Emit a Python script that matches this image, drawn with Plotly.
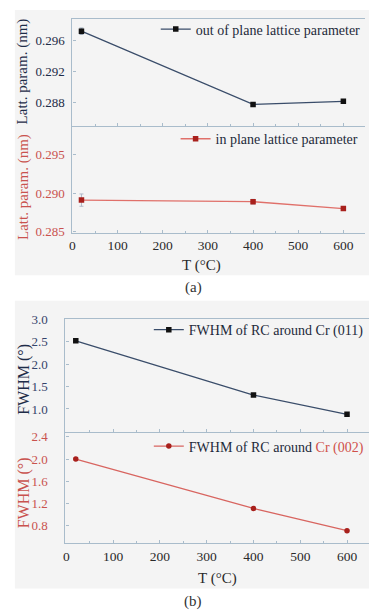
import plotly.graph_objects as go

# ---------------- data ----------------
T = [20, 400, 600]
out_of_plane = [0.2972, 0.2878, 0.2882]
out_of_plane_err = [0.0004, 0.0001, 0.0001]
in_plane = [0.2891, 0.2889, 0.2880]
in_plane_err = [0.0008, 0.0003, 0.0002]
fwhm_011 = [2.52, 1.31, 0.88]
fwhm_002 = [2.00, 1.11, 0.71]
ref_out = [0.288]
ref_in = [0.2882]

ticks_a_top = [0.288, 0.292, 0.296]
ticks_a_bot = [0.285, 0.290, 0.295]
ticks_b_top = [1.0, 1.5, 2.0, 2.5, 3.0]
ticks_b_bot = [0.8, 1.2, 1.6, 2.0, 2.4]
ticks_x = [0, 100, 200, 300, 400, 500, 600]

W, H = 369, 616
FONT = "Liberation Serif"
NAVY = "#1e2c48"
RED = "#c9524e"
AXC = "#a9bccb"

def px(x):
    return x / W

def py(y):
    return 1 - y / H

fig = go.Figure()

# traces
fig.add_trace(go.Scatter(
    x=T, y=out_of_plane, mode="lines+markers", name="out of plane lattice parameter",
    line=dict(color="#3a4d6a", width=1.3),
    marker=dict(symbol="square", size=5.5, color="#111111"),
    error_y=dict(type="data", array=out_of_plane_err, color="#8898aa", thickness=1, width=2),
    xaxis="x", yaxis="y", legend="legend"))
fig.add_trace(go.Scatter(
    x=T, y=in_plane, mode="lines+markers", name="in plane lattice parameter",
    line=dict(color="#e0706a", width=1.3),
    marker=dict(symbol="square", size=5.5, color="#a8201c"),
    error_y=dict(type="data", array=in_plane_err, color="#b0b8c8", thickness=1, width=2),
    xaxis="x2", yaxis="y2", legend="legend2"))
fig.add_trace(go.Scatter(
    x=T, y=fwhm_011, mode="lines+markers", name="FWHM of RC around Cr (011)",
    line=dict(color="#3a4d6a", width=1.3),
    marker=dict(symbol="square", size=5.5, color="#111111"),
    xaxis="x3", yaxis="y3", legend="legend3"))
fig.add_trace(go.Scatter(
    x=T, y=fwhm_002, mode="lines+markers",
    name="FWHM of RC around <span style='color:#d0504a'>Cr (002)</span>",
    line=dict(color="#d86560", width=1.3),
    marker=dict(symbol="circle", size=5.5, color="#a8201c"),
    xaxis="x4", yaxis="y4", legend="legend4"))

# dotted reference lines
for v in ref_out:
    fig.add_shape(type="line", xref="x domain", yref="y", x0=0, x1=1, y0=v, y1=v,
                  line=dict(color="#8f9fb2", width=1, dash="dot"), layer="below")
for v in ref_in:
    fig.add_shape(type="line", xref="x2 domain", yref="y2", x0=0, x1=1, y0=v, y1=v,
                  line=dict(color="#8f9fb2", width=1, dash="dot"), layer="below")

# background frames for (a) and (b)
fig.add_shape(type="rect", xref="paper", yref="paper", x0=px(12), x1=1, y0=py(274), y1=py(3),
              fillcolor="#f4f4f4", line=dict(width=0), layer="below")
fig.add_shape(type="rect", xref="paper", yref="paper", x0=px(12), x1=1, y0=py(594), y1=py(300),
              fillcolor="#f4f4f4", line=dict(width=0), layer="below")

xa_dom = [px(70), px(365)]
xb_dom = [px(63), 1.0]

def xaxis(dom, anchor, rng, labels, mirror):
    return dict(domain=dom, anchor=anchor, range=rng, tickvals=ticks_x,
                showticklabels=labels, showline=True, linecolor=AXC, linewidth=1.2,
                mirror=mirror, ticks="inside", ticklen=3, tickcolor=AXC,
                showgrid=False, zeroline=False, ticklabeloverflow="allow",
                tickfont=dict(family=FONT, size=13.5, color="#2a2a2a"),
                minor=dict(ticks="inside", ticklen=2, tickcolor=AXC, dtick=50))

def yaxis(dom, anchor, rng, tv, fmt, color, standoff):
    return dict(domain=dom, anchor=anchor, range=rng, tickvals=tv, tickformat=fmt,
                showline=True, linecolor=AXC, linewidth=1.2, ticks="inside", ticklen=3,
                tickcolor=AXC, showgrid=False, zeroline=False,
                ticklabelstandoff=standoff,
                tickfont=dict(family=FONT, size=13, color=color))

fig.update_layout(
    width=W, height=H, margin=dict(l=0, r=0, t=0, b=0),
    font=dict(family=FONT),
    paper_bgcolor="white", plot_bgcolor="#fcfbfa",
    xaxis=xaxis(xa_dom, "y", [0, 648], False, True),
    yaxis=yaxis([py(122), py(12)], "x", [0.28497, 0.2988], ticks_a_top, ".3f", NAVY, 4),
    xaxis2=xaxis(xa_dom, "y2", [0, 648], True, False),
    yaxis2=yaxis([py(231), py(122)], "x2", [0.2848, 0.2987], ticks_a_bot, ".3f", RED, 4),
    xaxis3=xaxis(xb_dom, "y3", [-2, 647], False, True),
    yaxis3=yaxis([py(434), py(319)], "x3", [0.49, 3.0], ticks_b_top, ".1f", "#34436a", 14),
    xaxis4=xaxis(xb_dom, "y4", [-2, 647], True, False),
    yaxis4=yaxis([py(548), py(434)], "x4", [0.48, 2.49], ticks_b_bot, ".1f", RED, 14),
    showlegend=True,
)

def legend(xl, yc):
    return dict(x=px(xl), y=py(yc), xanchor="left", yanchor="middle",
                bgcolor="rgba(0,0,0,0)", borderwidth=0, itemwidth=30,
                font=dict(family=FONT, size=14, color="#1e2a3a"),
                tracegroupgap=0)

fig.update_layout(
    legend=legend(154, 23),
    legend2=legend(174, 135),
    legend3=legend(147, 330),
    legend4=legend(147, 449),
)

# axis titles and captions
anns = [
    dict(text="Latt. param. (nm)", x=px(20), y=py(66), textangle=-90, color=NAVY, size=15),
    dict(text="Latt. param. (nm)", x=px(20), y=py(184), textangle=-90, color=RED, size=15),
    dict(text="FWHM (°)", x=px(21), y=py(380), textangle=-90, color=NAVY, size=16),
    dict(text="FWHM (°)", x=px(21), y=py(496), textangle=-90, color=RED, size=16),
    dict(text="T (°C)", x=px(200), y=py(264), textangle=0, color="#2a2a2a", size=15),
    dict(text="T (°C)", x=px(216), y=py(584), textangle=0, color="#2a2a2a", size=15),
    dict(text="(a)", x=px(192), y=py(287), textangle=0, color="#333333", size=15),
    dict(text="(b)", x=px(192), y=py(607), textangle=0, color="#333333", size=15),
]
for a in anns:
    fig.add_annotation(text=a["text"], x=a["x"], y=a["y"], xref="paper", yref="paper",
                       textangle=a["textangle"], showarrow=False,
                       xanchor="center", yanchor="middle",
                       font=dict(family=FONT, size=a["size"], color=a["color"]))

fig.write_html("out.html", config={"displayModeBar": False},
               post_script="document.body.style.margin='0';document.body.style.overflow='hidden';")
